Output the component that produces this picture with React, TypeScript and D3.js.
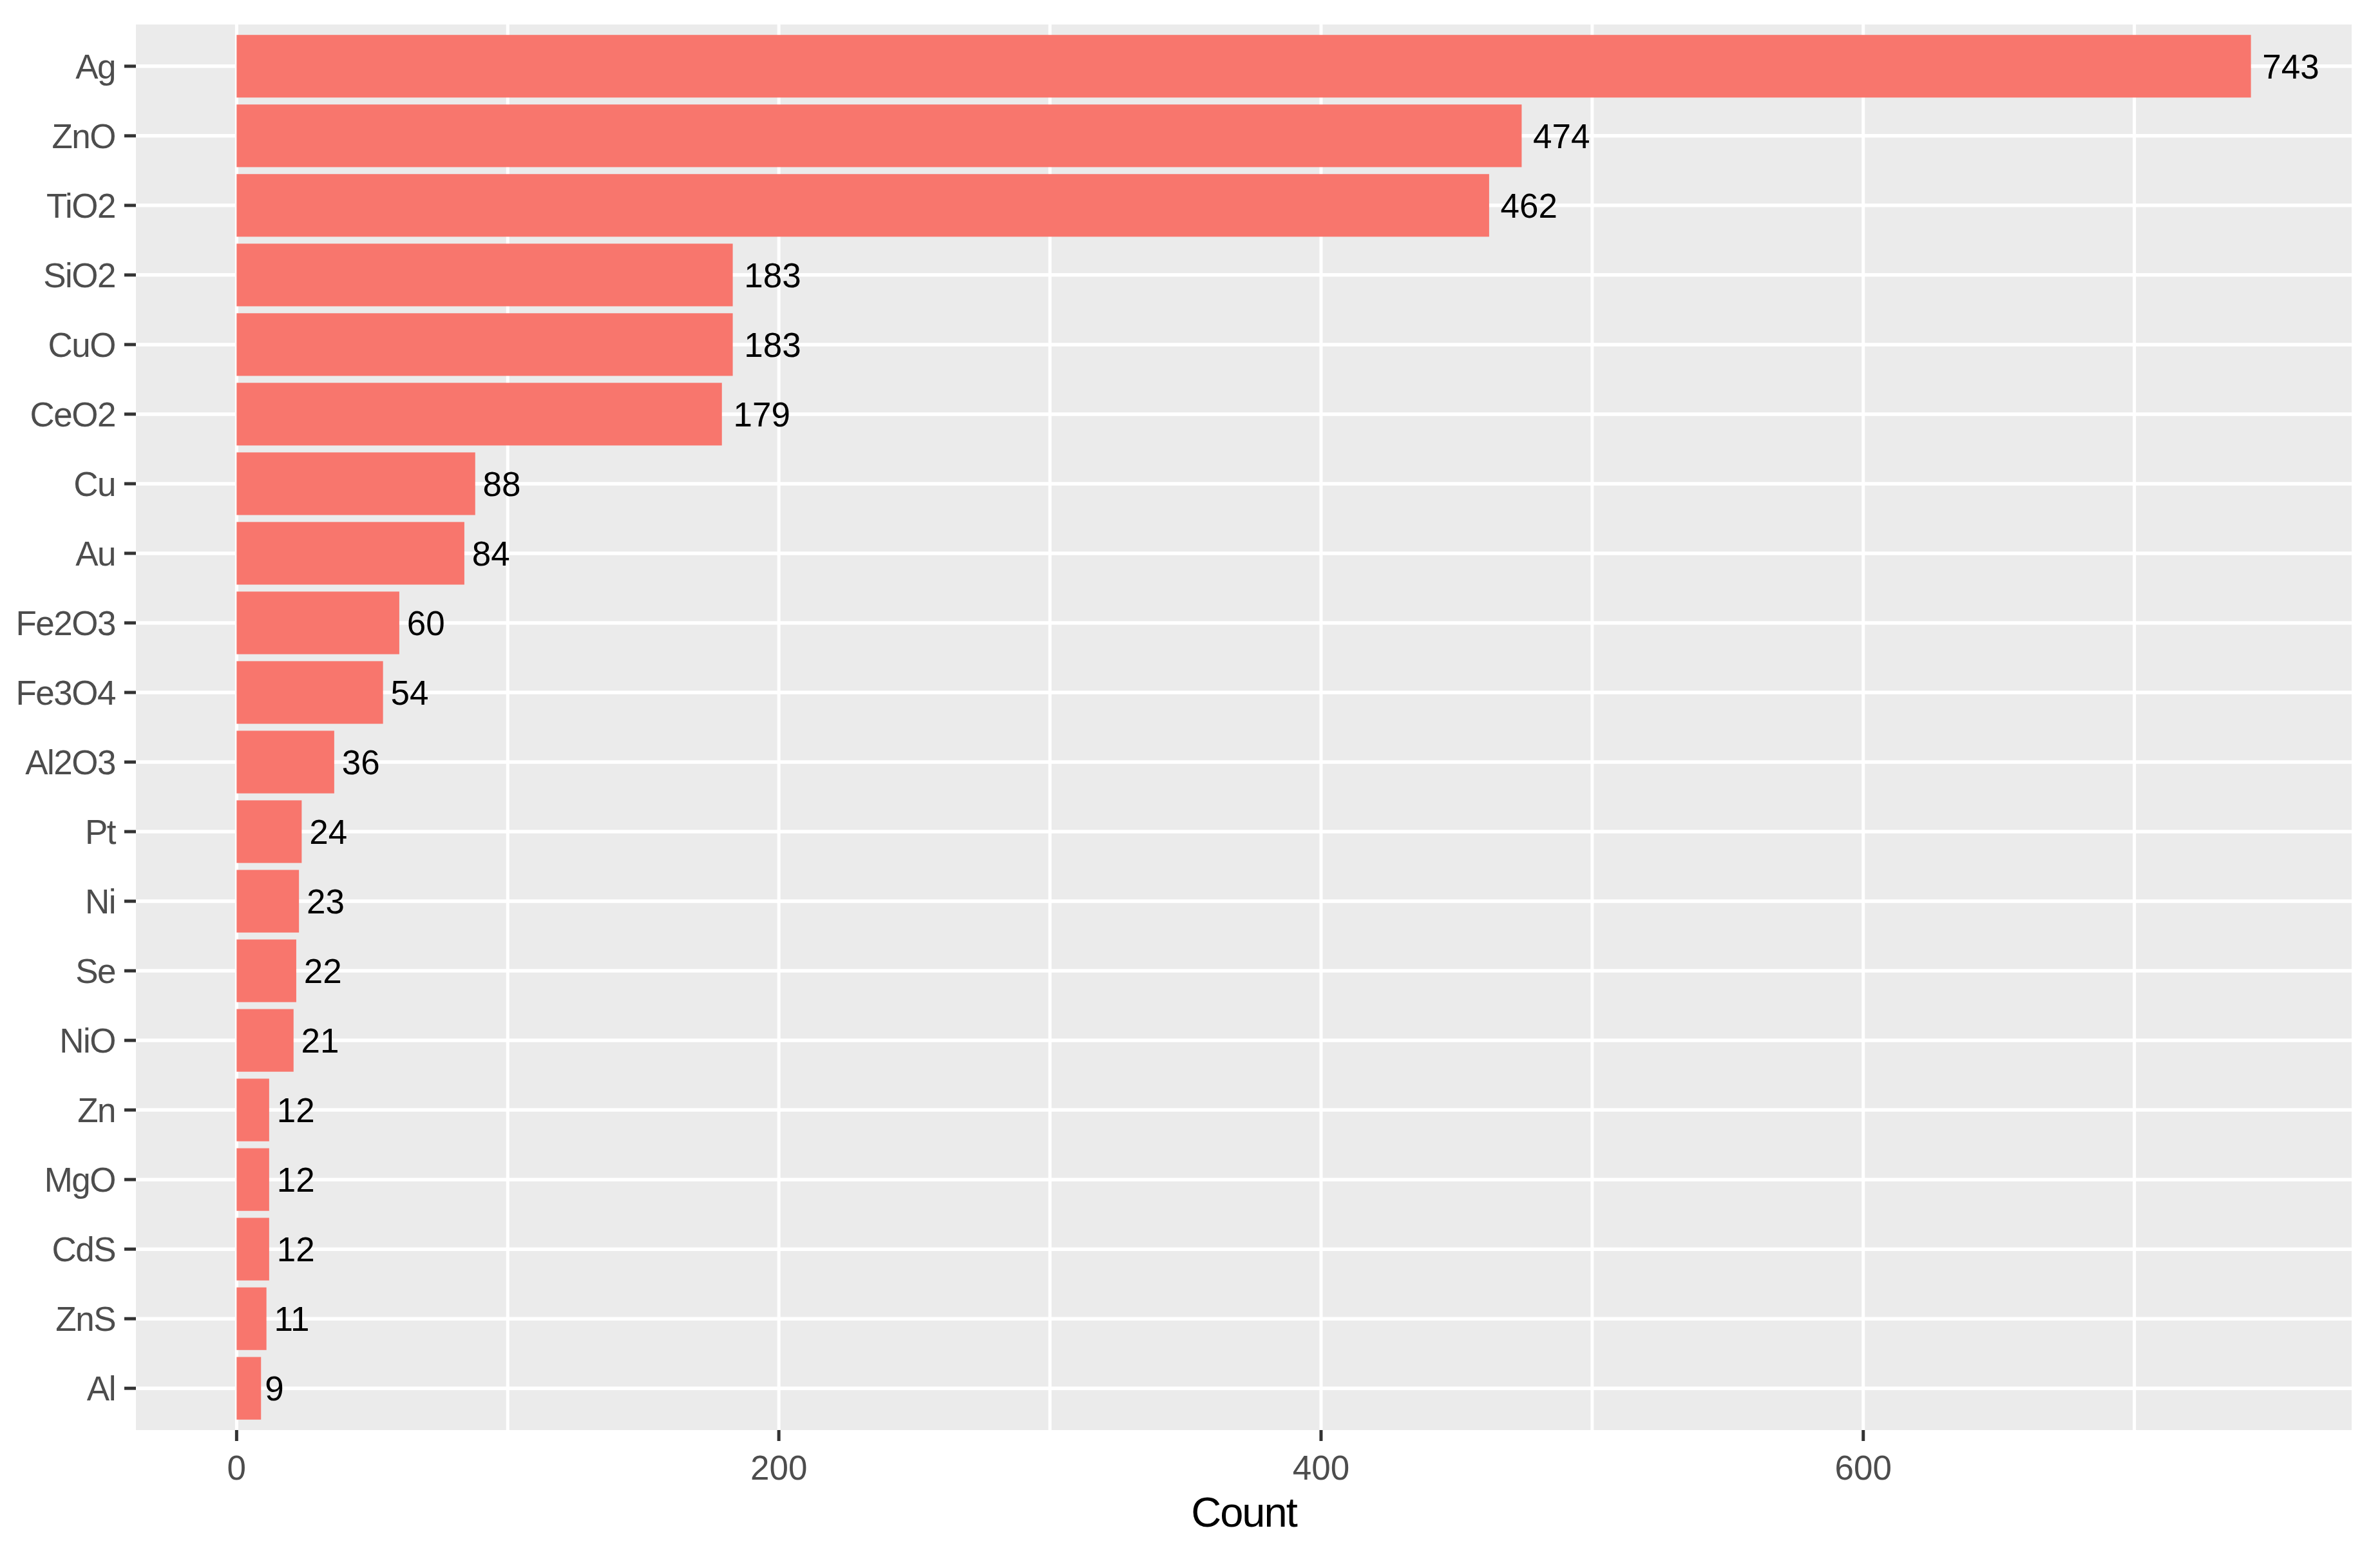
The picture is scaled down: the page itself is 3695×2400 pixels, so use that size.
import React from "react";
import * as d3 from "d3";

const categories = ["Ag", "ZnO", "TiO2", "SiO2", "CuO", "CeO2", "Cu", "Au", "Fe2O3", "Fe3O4", "Al2O3", "Pt", "Ni", "Se", "NiO", "Zn", "MgO", "CdS", "ZnS", "Al"];
const counts = [743, 474, 462, 183, 183, 179, 88, 84, 60, 54, 36, 24, 23, 22, 21, 12, 12, 12, 11, 9];
const majorTicks = [0, 200, 400, 600];
const minorTicks = [100, 300, 500, 700];
const xTitle = "Count";

const W = 3695;
const H = 2400;
const panel = { left: 211, right: 3651, top: 38, bottom: 2220 };
const FONT = "'Liberation Sans', Arial, Helvetica, sans-serif";
const FS = 53;

export default function App() {
  const maxV = d3.max(counts) as number;
  const pad = maxV * 0.05;
  const x = d3.scaleLinear().domain([-pad, maxV + pad]).range([panel.left, panel.right]);
  const y = d3
    .scaleBand<string>()
    .domain(categories)
    .range([panel.top, panel.bottom])
    .paddingInner(0.1)
    .paddingOuter(0.15)
    .align(0.5);
  const bw = y.bandwidth();
  const center = (c: string) => (y(c) as number) + bw / 2;

  return (
    <svg
      width={W}
      height={H}
      style={{ position: "absolute", left: 0, top: 0, display: "block", background: "#FFFFFF" }}
      fontFamily={FONT}
    >
      <rect x={0} y={0} width={W} height={H} fill="#FFFFFF" />
      <rect
        x={panel.left}
        y={panel.top}
        width={panel.right - panel.left}
        height={panel.bottom - panel.top}
        fill="#EBEBEB"
      />
      {minorTicks.map((t) => (
        <line key={"mi" + t} x1={x(t)} x2={x(t)} y1={panel.top} y2={panel.bottom} stroke="#FFFFFF" strokeWidth={5} />
      ))}
      {majorTicks.map((t) => (
        <line key={"ma" + t} x1={x(t)} x2={x(t)} y1={panel.top} y2={panel.bottom} stroke="#FFFFFF" strokeWidth={5} />
      ))}
      {categories.map((c) => (
        <line key={"hg" + c} x1={panel.left} x2={panel.right} y1={center(c)} y2={center(c)} stroke="#FFFFFF" strokeWidth={5.5} />
      ))}
      {categories.map((c, i) => (
        <rect key={"b" + c} x={x(0)} y={y(c)} width={x(counts[i]) - x(0)} height={bw} fill="#F8766D" />
      ))}
      {categories.map((c, i) => {
        const label = String(counts[i]);
        const tw = label.length * 0.556 * FS;
        return (
          <text
            key={"v" + c}
            x={x(counts[i]) + 0.2 * tw}
            y={center(c) + 0.36 * FS}
            fontSize={FS}
            fill="#000000"
            textAnchor="start"
          >
            {label}
          </text>
        );
      })}
      {categories.map((c) => (
        <g key={"yt" + c}>
          <line x1={panel.left - 18} x2={panel.left} y1={center(c)} y2={center(c)} stroke="#333333" strokeWidth={5} />
          <text
            x={panel.left - 32}
            y={center(c) + 0.36 * FS}
            fontSize={FS}
            letterSpacing={-1.5}
            fill="#4D4D4D"
            textAnchor="end"
          >
            {c}
          </text>
        </g>
      ))}
      {majorTicks.map((t) => (
        <g key={"xt" + t}>
          <line x1={x(t)} x2={x(t)} y1={panel.bottom} y2={panel.bottom + 17} stroke="#333333" strokeWidth={5} />
          <text x={x(t)} y={2297} fontSize={FS} fill="#4D4D4D" textAnchor="middle">
            {String(t)}
          </text>
        </g>
      ))}
      <text
        x={(panel.left + panel.right) / 2}
        y={2370}
        fontSize={65}
        letterSpacing={-2}
        fill="#000000"
        textAnchor="middle"
      >
        {xTitle}
      </text>
    </svg>
  );
}
